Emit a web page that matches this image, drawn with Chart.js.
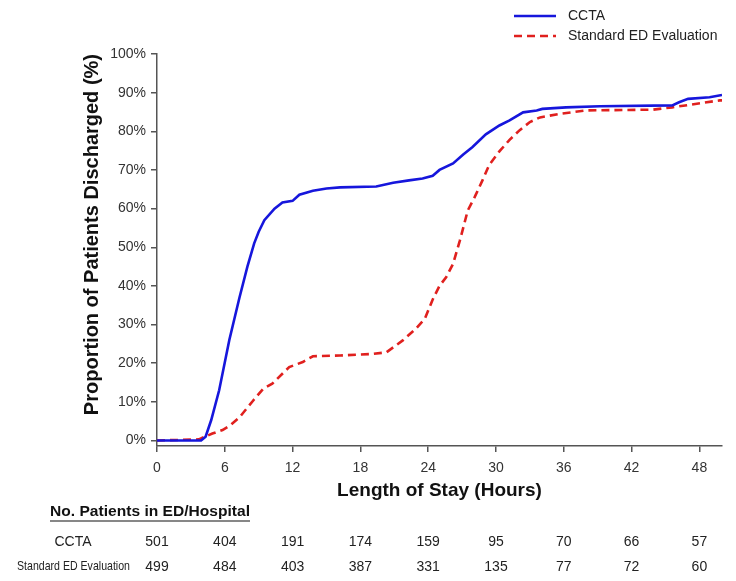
<!DOCTYPE html>
<html>
<head>
<meta charset="utf-8">
<style>
  html, body { margin: 0; padding: 0; background: #fff; }
  #wrap { width: 736px; height: 581px; position: relative; }
</style>
<script src="https://cdn.jsdelivr.net/npm/chart.js@4.4.1/dist/chart.umd.min.js"></script>
</head>
<body>
<div id="wrap"><canvas id="c" width="736" height="581"></canvas></div>
<script>
// ---- Data ----
const seriesNames = ['CCTA', 'Standard ED Evaluation'];

const cctaHours = [0, 3.9, 4.3, 4.8, 5.5, 6.4, 7.3, 8.0, 8.6, 9.0, 9.5, 10.4, 11.1, 12.0, 12.6, 13.8, 15.0, 16.2, 19.4, 20.9, 22.3, 23.5, 24.4, 25.0, 26.2, 27.1, 27.9, 29.1, 30.3, 31.2, 32.4, 33.6, 34.1, 36.2, 39.2, 45.6, 46.2, 47.0, 48.9, 50.0];
const cctaPct   = [0, 0, 1.0, 5.3, 13, 26, 37, 45, 51, 54, 57, 60, 61.6, 62.0, 63.6, 64.6, 65.2, 65.5, 65.7, 66.7, 67.3, 67.8, 68.5, 70.0, 71.7, 74.0, 75.9, 79.2, 81.5, 82.8, 84.9, 85.4, 85.8, 86.2, 86.5, 86.7, 87.5, 88.4, 88.8, 89.4];

const sedHours = [0, 3.7, 4.9, 5.8, 6.5, 7.3, 8.5, 9.4, 10.2, 11.7, 12.9, 13.8, 16.2, 19.1, 20.3, 21.75, 22.9, 23.7, 24.4, 25.0, 25.6, 26.2, 26.8, 27.5, 28.1, 28.8, 29.4, 30.3, 31.2, 32.1, 33.0, 33.9, 35.6, 38.0, 43.9, 45.6, 49.8, 50.0];
const sedPct   = [0, 0.3, 1.8, 2.7, 4.0, 6.0, 10.3, 13.4, 14.7, 19.0, 20.3, 21.8, 22.0, 22.4, 22.8, 25.9, 28.9, 31.5, 36.5, 40.0, 42.3, 45.7, 51.7, 59.5, 62.9, 67.3, 71.3, 74.8, 77.8, 80.3, 82.4, 83.6, 84.5, 85.4, 85.6, 86.2, 88.0, 88.0];

const xTicks = [0, 6, 12, 18, 24, 30, 36, 42, 48];
const yTicks = [0, 10, 20, 30, 40, 50, 60, 70, 80, 90, 100];

const tableTitle = 'No. Patients in ED/Hospital';
const atRiskCCTA = [501, 404, 191, 174, 159, 95, 70, 66, 57];
const atRiskSED  = [499, 484, 403, 387, 331, 135, 77, 72, 60];

// ---- Styles ----
const FONT = "'Liberation Sans', Arial, sans-serif";
const BLUE = '#1616dc';
const RED = '#e0201e';
const AXIS = '#555555';

const toPts = (xs, ys) => xs.map((x, i) => ({ x, y: ys[i] }));

const overlayPlugin = {
  id: 'overlay',
  afterDraw(chart) {
    const ctx = chart.ctx;
    const xs = chart.scales.x;
    ctx.save();
    // Legend
    const legendItems = chart.data.datasets.map((d, i) => ({
      text: seriesNames[i], color: d.borderColor, dash: d.borderDash || [], width: d.borderWidth
    }));
    legendItems.forEach((it, i) => {
      const y = 16 + i * 20;
      ctx.beginPath();
      ctx.setLineDash(it.dash);
      ctx.strokeStyle = it.color;
      ctx.lineWidth = it.width;
      ctx.moveTo(514, y);
      ctx.lineTo(556, y);
      ctx.stroke();
      ctx.setLineDash([]);
      ctx.fillStyle = '#222';
      ctx.font = '14px ' + FONT;
      ctx.textAlign = 'left';
      ctx.textBaseline = 'middle';
      ctx.fillText(it.text, 568, y);
    });

    // At-risk table
    ctx.fillStyle = '#111';
    ctx.font = 'bold 14px ' + FONT;
    ctx.textAlign = 'left';
    ctx.textBaseline = 'middle';
    const tw = ctx.measureText(tableTitle).width;
    const hx = 50, hy = 512;
    ctx.save();
    ctx.translate(hx, hy);
    ctx.scale(200 / tw, 1.05);
    ctx.fillText(tableTitle, 0, 0);
    ctx.restore();
    ctx.beginPath();
    ctx.strokeStyle = '#111';
    ctx.lineWidth = 1.2;
    ctx.moveTo(hx, hy + 9);
    ctx.lineTo(hx + 200, hy + 9);
    ctx.stroke();

    ctx.font = '14px ' + FONT;
    ctx.fillStyle = '#222';
    ctx.textAlign = 'center';
    ctx.fillText(seriesNames[0], 73, 542);
    // small condensed label
    ctx.save();
    ctx.font = '11px ' + FONT;
    const lw = ctx.measureText(seriesNames[1]).width;
    ctx.translate(17, 567);
    ctx.scale(113 / lw, 1.08);
    ctx.textAlign = 'left';
    ctx.fillText(seriesNames[1], 0, 0);
    ctx.restore();

    ctx.font = '14px ' + FONT;
    ctx.textAlign = 'center';
    xTicks.forEach((h, i) => {
      const px = xs.getPixelForValue(h);
      ctx.fillText(String(atRiskCCTA[i]), px, 542);
      ctx.fillText(String(atRiskSED[i]), px, 567);
    });
    ctx.restore();
  }
};

new Chart(document.getElementById('c'), {
  type: 'line',
  data: {
    datasets: [
      {
        label: seriesNames[0],
        data: toPts(cctaHours, cctaPct),
        borderColor: BLUE,
        borderWidth: 2.6,
        pointRadius: 0,
        tension: 0,
        fill: false
      },
      {
        label: seriesNames[1],
        data: toPts(sedHours, sedPct),
        borderColor: RED,
        borderWidth: 2.6,
        borderDash: [8, 5],
        pointRadius: 0,
        tension: 0,
        fill: false
      }
    ]
  },
  options: {
    responsive: false,
    animation: false,
    events: [],
    layout: { padding: { left: 0, top: 54, right: 14, bottom: 0 } },
    plugins: {
      legend: { display: false },
      tooltip: { enabled: false }
    },
    scales: {
      x: {
        type: 'linear',
        min: 0,
        max: 50,
        afterFit(s) { s.height = 135; },
        afterBuildTicks(s) { s.ticks = xTicks.map(v => ({ value: v })); },
        grid: { drawOnChartArea: false, drawTicks: true, tickLength: 6, color: AXIS, lineWidth: 1.5 },
        border: { display: true, color: AXIS, width: 1.5 },
        ticks: {
          color: '#333',
          font: { family: FONT, size: 14 },
          padding: 8,
          maxRotation: 0,
          autoSkip: false
        },
        title: {
          display: true,
          text: 'Length of Stay (Hours)',
          color: '#111',
          font: { family: FONT, size: 19, weight: 'bold' },
          padding: { top: 0, bottom: 79 }
        }
      },
      y: {
        type: 'linear',
        min: -1.42,
        max: 100,
        afterFit(s) { s.width = 157; },
        afterBuildTicks(s) { s.ticks = yTicks.map(v => ({ value: v })); },
        grid: { drawOnChartArea: false, drawTicks: true, tickLength: 6, color: AXIS, lineWidth: 1.5 },
        border: { display: true, color: AXIS, width: 1.5 },
        ticks: {
          color: '#333',
          font: { family: FONT, size: 14 },
          padding: 5,
          callback: v => v + '%'
        },
        title: {
          display: true,
          text: 'Proportion of Patients Discharged (%)',
          align: 'end',
          color: '#111',
          font: { family: FONT, size: 20, weight: 'bold' },
          padding: { top: 80, bottom: 0 }
        }
      }
    }
  },
  plugins: [overlayPlugin]
});
</script>
</body>
</html>
